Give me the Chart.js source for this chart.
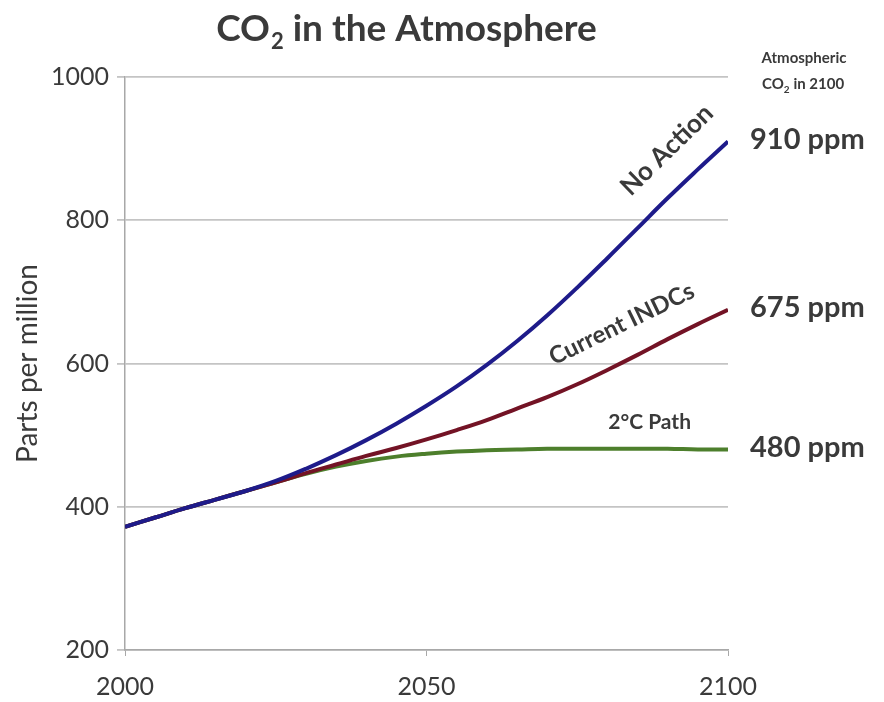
<!DOCTYPE html>
<html>
<head>
<meta charset="utf-8">
<script src="https://cdn.jsdelivr.net/npm/chart.js@4.4.1/dist/chart.umd.min.js"></script>
<style>
  html, body { margin: 0; padding: 0; background: #fff; }
  #wrap { width: 884px; height: 702px; }
</style>
</head>
<body>
<div id="wrap"><canvas id="chart" width="884" height="702"></canvas></div>
<script>
// values
const years = [2000, 2005, 2010, 2015, 2020, 2025, 2030, 2035, 2040, 2045, 2050,
               2055, 2060, 2065, 2070, 2075, 2080, 2085, 2090, 2095, 2100];
const noAction = [372, 385, 398, 410, 422, 436, 453, 472, 493, 516, 541,
                  568, 598, 631, 667, 706, 747, 789, 831, 871, 910];
const currentINDCs = [372, 385, 398, 410, 422, 434, 447, 459, 471, 482, 494,
                      507, 521, 537, 553, 571, 591, 612, 634, 655, 675];
const twoDegreePath = [372, 385, 398, 410, 422, 434, 446, 456, 464, 470, 474,
                       477, 479, 480, 481, 481, 481, 481, 481, 480, 480];
const seriesNames = ['No Action', 'Current INDCs', '2°C Path'];
const endLabels = ['910 ppm', '675 ppm', '480 ppm'];
const yTicks = [200, 400, 600, 800, 1000];
const xTicks = [2000, 2050, 2100];

const colors = ['#1e1b8a', '#731325', '#4d7f2c'];
const textColor = '#3a3a3a';
const font = 'Lato, "Open Sans", sans-serif';

const toPoints = vals => years.map((yr, i) => ({ x: yr, y: vals[i] }));

const labelPlugin = {
  id: 'labels',
  afterDatasetsDraw(chart) {
    const ctx = chart.ctx;
    const xs = chart.scales.x, ys = chart.scales.y;
    const px = v => xs.getPixelForValue(v);
    const py = v => ys.getPixelForValue(v);
    ctx.save();
    ctx.fillStyle = textColor;

    // title with subscript
    ctx.textBaseline = 'alphabetic';
    const big = 'bold 37px ' + font, sub = 'bold 22px ' + font;
    const t1 = 'CO', t3 = ' in the Atmosphere';
    ctx.font = big;
    const w1 = ctx.measureText(t1).width;
    const w3 = ctx.measureText(t3).width;
    ctx.font = sub;
    const w2 = ctx.measureText('2').width;
    let tx = 406 - (w1 + w2 + w3) / 2;
    ctx.textAlign = 'left';
    ctx.font = big;
    ctx.fillText(t1, tx, 41);
    ctx.font = sub;
    ctx.fillText('2', tx + w1 + 1, 49);
    ctx.font = big;
    ctx.fillText(t3, tx + w1 + w2 + 1, 41);

    // header over the end labels
    ctx.textAlign = 'center';
    ctx.font = 'bold 15px ' + font;
    ctx.fillText('Atmospheric', 804, 63);
    ctx.textAlign = 'left';
    const hx = 762;
    ctx.fillText('CO', hx, 89);
    const wc = ctx.measureText('CO').width;
    ctx.font = 'bold 10px ' + font;
    ctx.fillText('2', hx + wc, 93);
    ctx.font = 'bold 15px ' + font;
    ctx.fillText(' in 2100', hx + wc + 6, 89);

    // values at 2100
    ctx.textAlign = 'left';
    ctx.textBaseline = 'middle';
    ctx.font = 'bold 29px ' + font;
    const ends = [noAction, currentINDCs, twoDegreePath];
    ends.forEach((vals, i) => {
      ctx.fillText(endLabels[i], 750, py(vals[vals.length - 1]) - 2);
    });

    // labels along the lines: s = shift along the line, d = shift above it
    const along = (vals, idx, s, d, label, size) => {
      const x0 = px(years[idx - 1]), y0 = py(vals[idx - 1]);
      const x1 = px(years[idx + 1]), y1 = py(vals[idx + 1]);
      const ang = Math.atan2(y1 - y0, x1 - x0);
      const c = Math.cos(ang), sn = Math.sin(ang);
      const cx = px(years[idx]) + s * c + d * sn;
      const cy = py(vals[idx]) + s * sn - d * c;
      ctx.save();
      ctx.translate(cx, cy);
      ctx.rotate(ang);
      ctx.textAlign = 'center';
      ctx.textBaseline = 'middle';
      ctx.font = 'bold ' + size + 'px ' + font;
      ctx.fillText(label, 0, 0);
      ctx.restore();
    };
    along(noAction, 18, 33, 35, seriesNames[0], 26);
    along(currentINDCs, 16, 33, 35, seriesNames[1], 24);
    ctx.textAlign = 'center';
    ctx.textBaseline = 'middle';
    ctx.font = 'bold 21px ' + font;
    ctx.fillText(seriesNames[2], px(2087), py(481) - 26);
    ctx.restore();
  }
};

new Chart(document.getElementById('chart').getContext('2d'), {
  type: 'line',
  data: {
    datasets: [noAction, currentINDCs, twoDegreePath].map((vals, i) => ({
      label: seriesNames[i],
      data: toPoints(vals),
      borderColor: colors[i],
      borderWidth: 4,
      pointRadius: 0,
      tension: 0.4,
      fill: false
    }))
  },
  options: {
    responsive: false,
    animation: false,
    layout: { padding: { top: 77, right: 156, left: 0, bottom: 0 } },
    plugins: { legend: { display: false }, tooltip: { enabled: false } },
    scales: {
      x: {
        type: 'linear',
        min: 2000,
        max: 2100,
        afterFit: s => { s.height = 52; },
        afterBuildTicks: s => { s.ticks = xTicks.map(v => ({ value: v })); },
        grid: { display: true, drawOnChartArea: false, drawTicks: true, tickLength: 6, color: '#a8a8a8' },
        border: { color: '#a8a8a8', width: 1.5 },
        ticks: { color: textColor, font: { family: font, size: 25 }, padding: 16, maxRotation: 0,
                 callback: v => String(v) }
      },
      y: {
        min: 200,
        max: 1000,
        afterFit: s => { s.width = 125; },
        afterBuildTicks: s => { s.ticks = yTicks.map(v => ({ value: v })); },
        grid: { color: '#c4c4c4', lineWidth: 1.8, tickLength: 8 },
        border: { color: '#a8a8a8', width: 1.5 },
        ticks: { color: textColor, font: { family: font, size: 25 }, padding: 8,
                 callback: v => String(v) },
        title: { display: true, text: 'Parts per million', color: textColor,
                 font: { family: font, size: 28 }, padding: { top: 11, bottom: 0 } }
      }
    }
  },
  plugins: [labelPlugin]
});
</script>
</body>
</html>
